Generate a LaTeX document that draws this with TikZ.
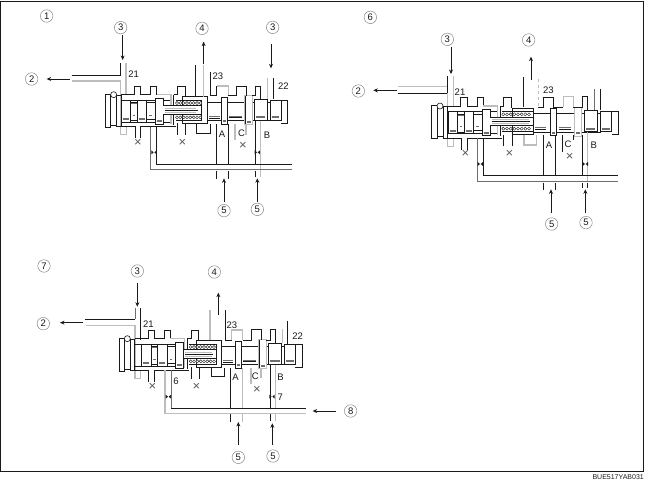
\documentclass[tikz,border=0pt]{standalone}
\usepackage{fontspec}
\setmainfont{Liberation Sans}
\usetikzlibrary{arrows.meta}
\definecolor{ink}{HTML}{1A1A1A}
\definecolor{pale}{HTML}{BDBDBD}
\definecolor{mid}{HTML}{6E6E6E}
\tikzset{
  wk/.style={draw=ink,line width=0.6pt},
  wg/.style={draw=pale,line width=1.1pt},
  wm/.style={draw=mid,line width=0.8pt},
  thick box/.style={draw=ink,line width=0.85pt,fill=white},
  num/.style={circle,draw=black!55,line width=0.4pt,inner sep=0pt,minimum size=12.5pt,font=\fontsize{9.5}{9.5}\selectfont,text=ink},
  lab/.style={inner sep=0pt,font=\fontsize{9.5}{9.5}\selectfont,text=ink},
  cross/.style={inner sep=0pt,font=\fontsize{13}{13}\selectfont,text=black!65},
  arr/.style={draw=ink,line width=0.7pt,-{Stealth[length=4.5pt,width=4pt]}},
  panel/.style={x=0.33333pt,y=-0.33333pt},
}
% land: x1 x2 y1 y2
\newcommand\spool[4]{%
  \draw[thick box] (#1,#3) rectangle (#2,#4);
  \draw[draw=mid,line width=0.9pt] ({#1+5},{#4-7}) -- ({#2-5},{#4-7});
  \draw[draw=mid,line width=0.3pt] ({#1+5},{#4-11}) -- ({#2-5},{#4-11});
}
% valve: 1 left group, 2 spring left, 3 rod right, 4 A, 5 C, 6 B, 7 D, 8 coil pitch
\newcommand\valve[8]{%
  % left end
  \draw[wk] (-25,-2) rectangle (-9,98);
  \draw[wk] (-9,4) -- (9,4) (-9,92) -- (9,92);
  \draw[wk] (9,2) rectangle (22,96);
  \draw[wk,fill=white] (0,0) circle (9);
  % left housing
  \draw[wk] (22,0) -- (62,0) -- (62,-26) -- (81,-26) -- (81,0) -- (111,0) -- (111,-26) -- (129,-26) -- (129,0);
  \draw[wg] (129,0) -- (172,0) -- (172,88);
  \draw[wk] (180,0) -- (180,90);
  \draw[wk] (180,0) -- (191,0) -- (191,-26) -- (214,-26) -- (214,6);
  \draw[wk] (22,16) -- (170,16) (22,82) -- (170,82);
  \draw[wk] (22,96) -- (64,96) -- (64,131) (81,131) -- (81,96) -- (186,96);
  \draw[wk] (191,86) -- (191,121) (216,86) -- (216,121);
  % lands on the left
  \draw[wk] ({#1+51},24) rectangle ({#1+71},78);
  \draw[wk] ({#1+99},24) rectangle ({#1+124},74);
  \draw[draw=mid,line width=0.9pt] ({#1+51},27) -- ({#1+71},27);
  \draw[draw=mid,line width=0.7pt] ({#1+57},62) -- ({#1+65},62) ({#1+107},62) -- ({#1+115},62);
  \spool{#1+23}{#1+51}{16}{82}
  \spool{#1+71}{#1+99}{16}{82}
  \spool{#1+124}{#1+149}{11}{88}
  % spring housing and rod
  \draw[thick box] (#2,6) rectangle (281,86);
  \draw[wk] (186,16) -- (#3,16) -- (#3,76) -- (186,76);
  \foreach \k in {0,...,7} {
    \draw[draw=ink,line width=0.4pt,fill=white] ({190+\k*#8},25) circle (4.6);
    \draw[draw=ink,line width=0.4pt,fill=white] ({190+\k*#8},68) circle (4.6);
  }
  \draw[draw=ink,line width=0.6pt,fill=white] ({#1+149},33) -- (#3,33) -- (#3,59) -- ({#1+149},59);
  \draw[draw=ink,line width=0.9pt] ({#1+153},47) -- ({#3-10},47);
  \draw[draw=pale,line width=0.6pt] ({#1+153},41) -- ({#3-14},41) ({#1+153},53) -- ({#3-14},53);
  % right body
  \draw[wk] (281,22) -- (#7,22) (281,78) -- (#7,78);
  \draw[draw=mid,line width=0.9pt] (286,65) -- (318,65) ({#4+24},64) -- ({#4+62},64);
  \draw[draw=ink,line width=0.3pt] (286,69) -- (318,69) ({#4+24},68) -- ({#4+62},68);
  \spool{#4}{#4+18}{8}{88}
  \spool{#5}{#5+22}{3}{90}
  \draw[draw=pale,line width=1pt] (#5,3) rectangle ({#5+22},90);
  \spool{#6}{#6+38}{14}{76}
  \draw[wk] ({#7+33},16) -- ({#7+53},16) -- ({#7+53},86) -- ({#7+33},86);
  \spool{#7}{#7+33}{16}{76}
}
\newcommand\rstr[2]{%
  \fill[ink] ({#1-8},{#2-6}) -- ({#1-1},#2) -- ({#1-8},{#2+6}) -- cycle;
  \fill[ink] ({#1+8},{#2-6}) -- ({#1+1},#2) -- ({#1+8},{#2+6}) -- cycle;
}
% name, x1, y1, x2, y2: named ends, drawn from tail to tip
\newcommand\flow[5]{%
  \coordinate (#1t) at (#2,#3);
  \coordinate (#1h) at (#4,#5);
  \draw[arr] (#1t) -- (#1h);
}
\begin{document}
\begin{tikzpicture}[x=1pt,y=-1pt]
\useasboundingbox (0,0) rectangle (645,491);
\fill[white] (0,0) rectangle (645,491);
\draw[draw=ink,line width=1pt] (0.5,1.5) -- (643.5,1.5) -- (643.5,471) -- (0.5,471) -- cycle;
\node[anchor=east,inner sep=0pt,font=\fontsize{7}{7}\selectfont,text=ink] (code) at (644,477.5) {BUE517YAB031};

% ---------------- panel 1
\begin{scope}[shift={(20,0)},panel]
  \draw[wk] (155,225) -- (302,225) -- (302,190);
  \draw[wg] (155,243) -- (302,243) -- (302,403) -- (320,403) -- (320,380);
  \draw[wg] (318,190) -- (318,285);
  \begin{scope}[shift={(281,284)}]
    \valve{0}{206}{262}{323}{394}{422}{469}{10}
  \end{scope}
  \draw[wk] (527,195) -- (527,290);
  \draw[wg] (551,195) -- (551,290);
  \draw[wk] (571,215) -- (571,285);
  \draw[wk] (571,285) -- (590,285) -- (590,258);
  \draw[wg] (590,258) -- (625,258) -- (625,285);
  \draw[wk] (625,285) -- (650,285) -- (650,258) -- (678,258) -- (678,287);
  \draw[wk] (697,287) -- (706,287) -- (706,258) -- (722,258) -- (722,298);
  \draw[wg] (742,233) -- (742,298);
  \draw[wk] (760,233) -- (760,298);
  \draw[wk] (528,372) -- (528,400) -- (570,400) -- (570,372);
  \draw[wk] (590,372) -- (590,492) (625,372) -- (625,492);
  \draw[wg] (645,372) -- (645,420);
  \draw[wg] (678,372) -- (678,405);
  \draw[wk] (706,362) -- (706,492);
  \draw[wg] (722,362) -- (722,530);
  \draw[wk] (410,380) -- (410,492) -- (815,492);
  \draw[wm] (390,380) -- (390,508) -- (815,508);
  \draw[wk] (590,512) -- (590,538) (625,512) -- (625,538);
  \draw[wk] (706,512) -- (706,530);
  \rstr{402}{457} \rstr{712}{457}
  \node[num] (a1) at (80,48) {1};
  \node[num] (a3) at (302,83) {3};
  \node[num] (a2) at (35,237) {2};
  \node[num] (a4) at (546,85) {4};
  \node[num] (a3r) at (758,82) {3};
  \node[num] (a5) at (612,632) {5};
  \node[num] (a5r) at (712,628) {5};
  \flow{fa3}{308}{105}{308}{180}
  \flow{fa2}{150}{237}{80}{237}
  \flow{fa4}{551}{192}{551}{125}
  \flow{fa3r}{753}{133}{753}{205}
  \flow{fa5}{612}{605}{612}{535}
  \flow{fa5r}{712}{605}{712}{535}
  \node[lab] (a21) at (341,224) {21};
  \node[lab] (a23) at (594,228) {23};
  \node[lab] (a22) at (790,260) {22};
  \node[lab] (aA) at (606,403) {A};
  \node[lab] (aC) at (665,400) {C};
  \node[lab] (aB) at (741,405) {B};
  \node[cross] (ax1) at (354,428) {×};
  \node[cross] (ax2) at (487,428) {×};
  \node[cross] (ax3) at (669,437) {×};
\end{scope}

% ---------------- panel 6
\begin{scope}[shift={(340,0)},panel]
  \draw[wg] (173,260) -- (322,260);
  \draw[wk] (173,280) -- (322,280);
  \draw[wk] (322,228) -- (322,280);
  \draw[wg] (322,280) -- (322,440) -- (340,440) -- (340,415);
  \draw[wg] (340,228) -- (340,318);
  \begin{scope}[shift={(300,318)}]
    \valve{2}{218}{280}{332}{403}{433}{482}{11}
  \end{scope}
  \draw[wk] (551,230) -- (551,322);
  \draw[draw=pale,line width=0.9pt,dashed] (594,238) -- (594,322);
  \draw[wk] (594,322) -- (610,322) -- (610,293) -- (640,293) -- (640,322) -- (670,322);
  \draw[wg] (670,322) -- (670,290) -- (700,290) -- (700,322);
  \draw[wk] (700,322) -- (727,322) -- (727,288) -- (742,288) -- (742,330);
  \draw[wm] (763,268) -- (763,330);
  \draw[wk] (781,268) -- (781,330);
  \draw[wg] (552,405) -- (552,435) -- (590,435) -- (590,405);
  \draw[wk] (610,405) -- (610,525) (647,405) -- (647,525);
  \draw[wk] (668,405) -- (668,455);
  \draw[wk] (700,405) -- (700,420);
  \draw[wk] (727,405) -- (727,525);
  \draw[wg] (743,395) -- (743,545);
  \draw[wk] (430,415) -- (430,525) -- (835,525);
  \draw[wm] (413,415) -- (413,544) -- (835,544);
  \draw[wk] (610,548) -- (610,570) (647,548) -- (647,570);
  \draw[wk] (727,548) -- (727,565) (743,548) -- (743,565);
  \rstr{421}{492} \rstr{736}{492}
  \node[num] (b6) at (91,52) {6};
  \node[num] (b3) at (322,118) {3};
  \node[num] (b2) at (55,273) {2};
  \node[num] (b4) at (566,120) {4};
  \node[num] (b5) at (635,672) {5};
  \node[num] (b5r) at (738,668) {5};
  \flow{fb3}{333}{140}{333}{222}
  \flow{fb2}{170}{271}{100}{271}
  \flow{fb4}{573}{240}{573}{170}
  \flow{fb5}{633}{640}{633}{568}
  \flow{fb5r}{736}{640}{736}{568}
  \node[lab] (b21) at (360,278) {21};
  \node[lab] (b23) at (625,272) {23};
  \node[lab] (bA) at (627,435) {A};
  \node[lab] (bC) at (684,432) {C};
  \node[lab] (bB) at (761,437) {B};
  \node[cross] (bx1) at (376,462) {×};
  \node[cross] (bx2) at (508,462) {×};
  \node[cross] (bx3) at (689,472) {×};
\end{scope}

% ---------------- panel 7
\begin{scope}[shift={(20,250)},panel]
  \draw[wk] (195,208) -- (345,208);
  \draw[wm] (345,175) -- (345,208);
  \draw[wg] (198,226) -- (345,226) -- (345,385) -- (362,385) -- (362,362);
  \draw[wk] (360,175) -- (360,270);
  \begin{scope}[shift={(322,266)}]
    \valve{20}{206}{268}{324}{395}{424}{471}{10}
  \end{scope}
  \draw[wg] (570,180) -- (570,270);
  \draw[wk] (617,180) -- (617,270) -- (635,270);
  \draw[wg] (635,270) -- (635,240) -- (668,240) -- (668,270);
  \draw[wk] (668,270) -- (693,270) -- (693,238) -- (723,238) -- (723,270);
  \draw[wk] (738,270) -- (750,270) -- (750,238) -- (765,238) -- (765,280);
  \draw[wg] (787,238) -- (787,280);
  \draw[wk] (803,213) -- (803,283);
  \draw[wk] (575,355) -- (575,380) -- (612,380) -- (612,355);
  \draw[wk] (632,355) -- (632,475);
  \draw[wg] (667,355) -- (667,475);
  \draw[wg] (693,355) -- (693,403);
  \draw[wg] (723,355) -- (723,385);
  \draw[wk] (750,345) -- (750,475);
  \draw[wg] (767,345) -- (767,475);
  \draw[wm] (453,360) -- (453,475);
  \draw[wk] (453,475) -- (858,475);
  \draw[wg] (435,360) -- (435,491) -- (858,491);
  \draw[wk] (632,493) -- (632,517);
  \draw[wg] (667,493) -- (667,517);
  \draw[wk] (750,493) -- (750,513);
  \draw[wg] (767,493) -- (767,513);
  \rstr{445}{440} \rstr{756}{440}
  \node[num] (c7) at (72,48) {7};
  \node[num] (c3) at (352,63) {3};
  \node[num] (c2) at (70,221) {2};
  \node[num] (c4) at (583,66) {4};
  \node[num] (c5) at (655,622) {5};
  \node[num] (c5r) at (759,618) {5};
  \node[num] (c8) at (992,483) {8};
  \flow{fc3}{352}{100}{352}{170}
  \flow{fc2}{190}{218}{120}{218}
  \flow{fc4}{595}{195}{595}{128}
  \flow{fc5}{655}{585}{655}{516}
  \flow{fc5r}{757}{585}{757}{520}
  \flow{fc8}{948}{483}{878}{483}
  \node[lab] (c21) at (385,222) {21};
  \node[lab] (c23) at (636,226) {23};
  \node[lab] (c22) at (833,260) {22};
  \node[lab] (cA) at (647,382) {A};
  \node[lab] (cC) at (706,378) {C};
  \node[lab] (cB) at (782,382) {B};
  \node[lab] (c6n) at (468,395) {6};
  \node[lab] (c7n) at (781,441) {7};
  \node[cross] (cx1) at (397,410) {×};
  \node[cross] (cx2) at (529,410) {×};
  \node[cross] (cx3) at (711,420) {×};
\end{scope}
\end{tikzpicture}
\end{document}
